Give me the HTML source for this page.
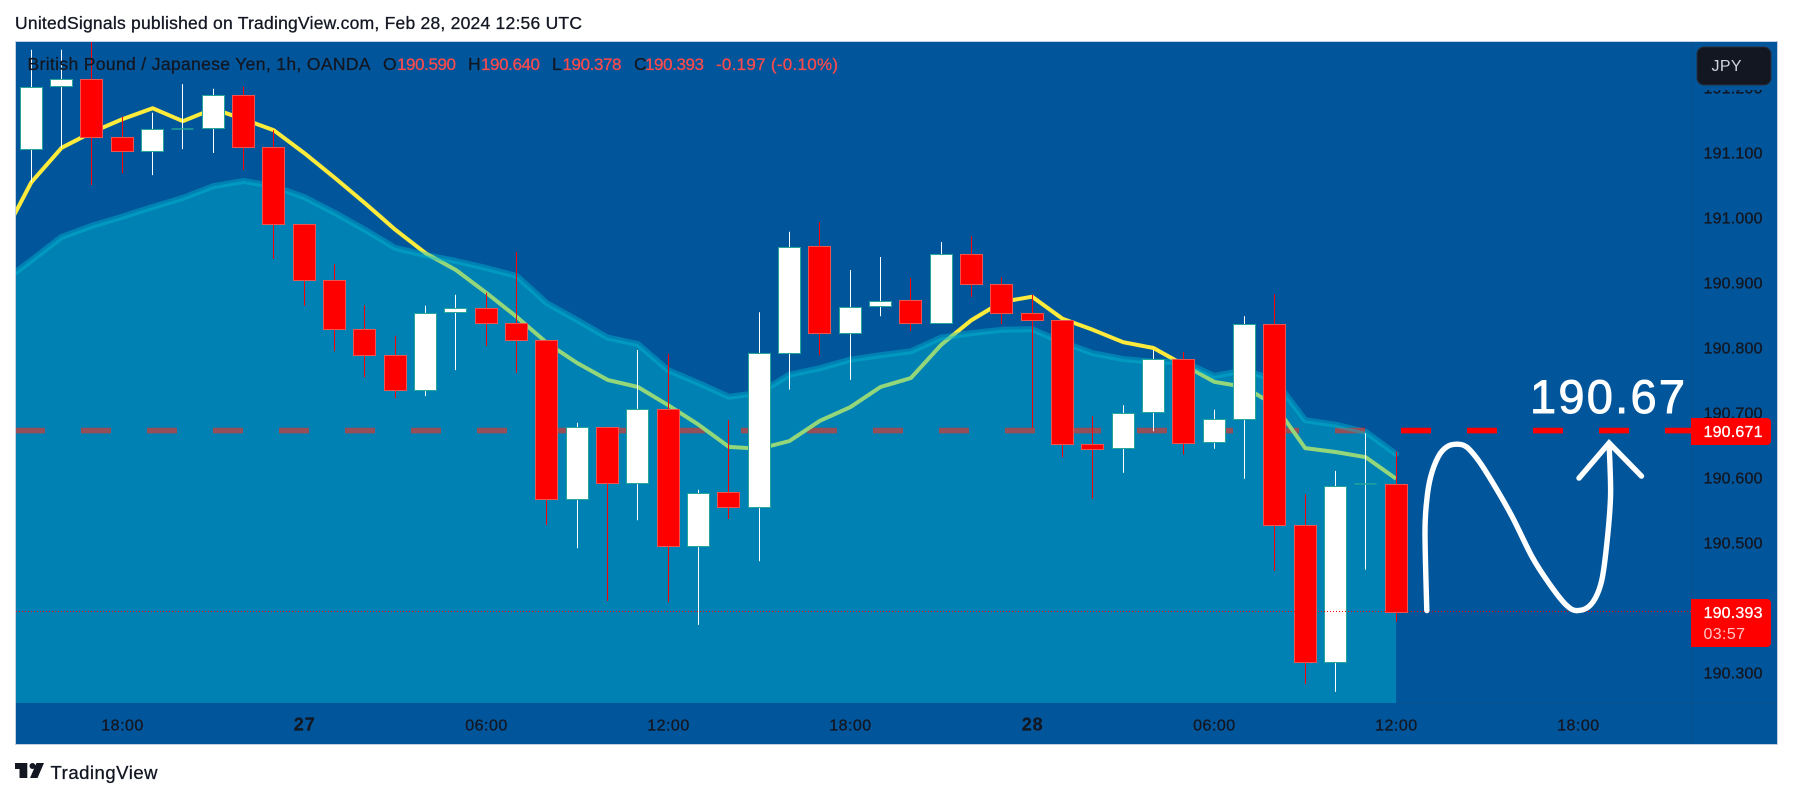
<!DOCTYPE html>
<html lang="en">
<head>
<meta charset="utf-8">
<title>GBP/JPY 1h chart</title>
<style>
html,body{margin:0;padding:0;background:#fff;}
body{width:1793px;height:798px;overflow:hidden;}
svg{display:block;}
text{font-family:"Liberation Sans",sans-serif;}
.ink{stroke:#131722;stroke-width:.3px;}
.redink{stroke:#ff4a4a;stroke-width:.25px;}
</style>
</head>
<body>
<svg id="chart" width="1793" height="798" viewBox="0 0 1793 798" xmlns="http://www.w3.org/2000/svg">
  <defs>
    <clipPath id="plot-clip"><rect x="16" y="42" width="1675.5" height="661"/></clipPath>
  </defs>
  <rect x="0" y="0" width="1793" height="798" fill="#ffffff"/>
  <text class="ink" x="15" y="29" font-size="17.5" fill="#131722" textLength="567">UnitedSignals published on TradingView.com, Feb 28, 2024 12:56 UTC</text>
  <rect x="15.5" y="41.5" width="1762" height="703" fill="#01569b" stroke="#c3cfe2" stroke-width="1"/>
  <g id="plot" clip-path="url(#plot-clip)"></g>
  <line x1="1691.5" y1="42" x2="1691.5" y2="744" stroke="#0a4f8c" stroke-width="1"/>
  <line x1="1397" y1="703.5" x2="1777" y2="703.5" stroke="#0a528f" stroke-width="1"/>
  <g id="time-axis"></g>
  <g id="price-axis"></g>

  <g>
    <text class="ink" x="27.5" y="70" font-size="17.5" fill="#131722" textLength="343">British Pound / Japanese Yen, 1h, OANDA</text>
    <text class="ink" x="383" y="70" font-size="17.5" fill="#131722">O</text>
    <text class="redink" x="397" y="70" font-size="17" fill="#ff4a4a" textLength="59">190.590</text>
    <text class="ink" x="468" y="70" font-size="17.5" fill="#131722">H</text>
    <text class="redink" x="481" y="70" font-size="17" fill="#ff4a4a" textLength="59">190.640</text>
    <text class="ink" x="552" y="70" font-size="17.5" fill="#131722">L</text>
    <text class="redink" x="562.5" y="70" font-size="17" fill="#ff4a4a" textLength="59">190.378</text>
    <text class="ink" x="634" y="70" font-size="17.5" fill="#131722">C</text>
    <text class="redink" x="645" y="70" font-size="17" fill="#ff4a4a" textLength="59">190.393</text>
    <text class="redink" x="716" y="70" font-size="17" fill="#ff4a4a" textLength="122">-0.197 (-0.10%)</text>
  </g>

  <rect x="1695" y="85" width="80" height="5" fill="#01569b"/>
  <g>
    <rect x="1697" y="47" width="74" height="38" rx="7" fill="#131722" stroke="#2a2e39" stroke-width="1"/>
    <text x="1711.5" y="71" font-size="16" fill="#d1d4dc" textLength="30">JPY</text>
  </g>

  <g>
    <path d="M1691 418H1767a4 4 0 0 1 4 4V441a4 4 0 0 1 -4 4H1691Z" fill="#ff0000"/>
    <text x="1703.5" y="437" font-size="16" fill="#ffffff" stroke="#ffffff" stroke-width=".3" textLength="59">190.671</text>
  </g>
  <g>
    <path d="M1691 599H1767a4 4 0 0 1 4 4V643a4 4 0 0 1 -4 4H1691Z" fill="#ff0000"/>
    <text x="1703.5" y="618" font-size="16" fill="#ffffff" stroke="#ffffff" stroke-width=".3" textLength="59">190.393</text>
    <text x="1703.5" y="639" font-size="16" fill="#ffc4c4" textLength="41.5">03:57</text>
  </g>

  <g>
    <path d="M15 763H27.3V778H19.5V769H15Z" fill="#131722"/>
    <circle cx="32.5" cy="766" r="3" fill="#131722"/>
    <path d="M36.5 763H44L37.5 778H30Z" fill="#131722"/>
    <text class="ink" x="50.5" y="779" font-size="18.5" fill="#131722" textLength="107">TradingView</text>
  </g>
</svg>

<script>
// Chart data (JPY per GBP, hourly bars)
const opens = [191.105,191.202,191.213,191.124,191.102,191.136,191.137,191.188,191.108,190.990,190.904,190.828,190.788,190.735,190.854,190.861,190.838,190.811,190.567,190.678,190.591,190.705,190.495,190.578,190.554,190.791,190.956,190.822,190.864,190.873,190.838,190.944,190.898,190.853,190.842,190.651,190.645,190.701,190.782,190.654,190.690,190.836,190.527,190.316,190.590,190.590];
const highs = [191.258,191.258,191.270,191.155,191.161,191.205,191.198,191.201,191.134,190.990,190.928,190.865,190.818,190.864,190.881,190.884,190.947,190.811,190.684,190.678,190.796,190.790,190.581,190.688,190.854,190.978,190.993,190.919,190.939,190.907,190.962,190.971,190.908,190.881,190.842,190.694,190.711,190.796,190.793,190.704,190.848,190.882,190.574,190.610,190.668,190.640];
const lows = [191.054,191.107,191.050,191.068,191.065,191.105,191.099,191.073,190.936,190.864,190.794,190.754,190.722,190.725,190.765,190.802,190.761,190.527,190.491,190.410,190.534,190.408,190.373,190.536,190.471,190.735,190.788,190.750,190.848,190.825,190.838,190.878,190.836,190.676,190.631,190.567,190.607,190.671,190.635,190.644,190.598,190.456,190.282,190.270,190.458,190.378];
const closes = [191.201,191.213,191.124,191.102,191.136,191.136,191.188,191.108,190.990,190.904,190.828,190.788,190.735,190.853,190.861,190.838,190.811,190.567,190.678,190.591,190.705,190.495,190.576,190.554,190.791,190.954,190.822,190.862,190.871,190.838,190.944,190.898,190.853,190.842,190.651,190.644,190.699,190.782,190.653,190.690,190.836,190.527,190.316,190.587,190.590,190.393];

// Moving averages: first value belongs to the bar before the first candle (clipped by the panel)
const fastAverage = [190.965,191.054,191.107,191.131,191.151,191.168,191.148,191.167,191.151,191.134,191.099,191.061,191.022,190.981,190.945,190.919,190.884,190.847,190.807,190.776,190.750,190.739,190.711,190.681,190.647,190.644,190.656,190.687,190.708,190.739,190.753,190.804,190.842,190.870,190.878,190.844,190.827,190.808,190.799,190.773,190.747,190.739,190.711,190.645,190.639,190.631,190.598];
const slowAverage = [190.899,190.934,190.970,190.987,191.001,191.016,191.030,191.048,191.056,191.048,191.031,191.007,190.981,190.953,190.942,190.933,190.922,190.910,190.868,190.842,190.815,190.805,190.765,190.745,190.724,190.730,190.758,190.768,190.781,190.788,190.794,190.815,190.822,190.827,190.828,190.808,190.791,190.782,190.778,190.778,190.756,190.765,190.750,190.688,190.681,190.670,190.636];

const levelPrice = 190.672;
const lastPrice = 190.393;

const priceTicks = ["191.200","191.100","191.000","190.900","190.800","190.700","190.600","190.500","190.300"];
const timeTickBars = [3,9,15,21,27,33,39,45,51];
const timeTickLabels = ["18:00","27","06:00","12:00","18:00","28","06:00","12:00","18:00"];
const timeTickBold = [false,true,false,false,false,true,false,false,false];

// Hand-drawn forecast annotation anchored as [bar, price]
const brushBars = [46.01,45.95,46.01,46.14,46.39,46.67,47.0,47.32,47.70,48.17,48.82,49.48,50.04,50.60,50.99,51.45,51.78,51.98,52.07,52.02];
const brushPrices = [190.395,190.514,190.565,190.601,190.632,190.647,190.651,190.647,190.627,190.593,190.540,190.478,190.437,190.404,190.395,190.406,190.442,190.514,190.576,190.653];
const arrowBars = [51.03,52.02,53.09];
const arrowPrices = [190.599,190.653,190.602];

// Axis functions
const xOf = function (bar) { return 31.3 + 30.33 * bar; };
const yOf = function (price) { return 152.4 + (191.1 - price) * 650; };
const snap = function (v) { return Math.floor(v) + 0.5; };

const NS = "http://www.w3.org/2000/svg";
const mk = function (tag, attrs, parent) {
  const e = document.createElementNS(NS, tag);
  Object.keys(attrs).forEach(function (k) { e.setAttribute(k, attrs[k]); });
  parent.appendChild(e);
  return e;
};

const plot = document.getElementById("plot");
const timeAxis = document.getElementById("time-axis");
const priceAxis = document.getElementById("price-axis");

// Level line (sits below the translucent area)
const levelLine = mk("line", {x1: 15, x2: 1691, y1: yOf(levelPrice), y2: yOf(levelPrice), stroke: "#ff0000", "stroke-width": 5.6, "stroke-dasharray": "30 36"}, plot);



// Fast average
const fastPts = fastAverage.map(function (p, i) { return xOf(i - 1).toFixed(1) + "," + yOf(p).toFixed(1); }).join(" ");
const fastLine = mk("polyline", {points: fastPts, fill: "none", stroke: "#ffeb3b", "stroke-width": 4, "stroke-linejoin": "round"}, plot);



// Slow average area
const slowPts = slowAverage.map(function (p, i) { return xOf(i - 1).toFixed(1) + "," + yOf(p).toFixed(1); });
const lastBar = slowAverage.length - 2;
const areaPts = slowPts.join(" ") + " " + xOf(lastBar).toFixed(1) + ",703 " + xOf(-1).toFixed(1) + ",703";
const slowArea = mk("polygon", {points: areaPts, fill: "rgb(0,188,212)", "fill-opacity": 0.42}, plot);


const slowLine = mk("polyline", {points: slowPts.join(" "), fill: "none", stroke: "rgb(0,188,212)", "stroke-opacity": 0.42, "stroke-width": 6, "stroke-linejoin": "round", "stroke-linecap": "round"}, plot);



// Candles
closes.forEach(function (close, i) {
  const open = opens[i];
  const up = close >= open;
  const cx = snap(xOf(i));
  const g = mk("g", {}, plot);
  
  

  const wick = mk("line", {x1: cx, x2: cx, y1: yOf(highs[i]), y2: yOf(lows[i]), stroke: up ? "#ffffff" : "#ff0000", "stroke-width": 1}, g);
  
  

  const yTop = yOf(Math.max(open, close));
  const yBot = yOf(Math.min(open, close));
  if (yBot - yTop < 1) {
    const doji = mk("rect", {x: cx - 11, y: yTop - 0.7, width: 22, height: 1.4, fill: "#26a69a"}, g);
    
    
  } else {
    const top = Math.round(yTop) + 0.5;
    const bot = Math.round(yBot) + 0.5;
    const body = mk("rect", {x: cx - 11, y: top, width: 22, height: Math.max(bot - top, 1), fill: up ? "#ffffff" : "#ff0000", stroke: up ? "#26a69a" : "#ef5350", "stroke-width": 1}, g);
    
    
  }
});

// Last price dotted line
const lastLine = mk("line", {x1: 16, x2: 1691, y1: snap(yOf(lastPrice)), y2: snap(yOf(lastPrice)), stroke: "#ff0000", "stroke-width": 1, "stroke-dasharray": "1 2"}, plot);



// Brush annotation: smooth curve through anchors
const bx = brushBars.map(xOf);
const by = brushPrices.map(yOf);
let brushD = "M" + bx[0].toFixed(1) + " " + by[0].toFixed(1);
for (let i = 0; i < bx.length - 1; i++) {
  const i0 = Math.max(i - 1, 0);
  const i3 = Math.min(i + 2, bx.length - 1);
  const c1x = bx[i] + (bx[i + 1] - bx[i0]) / 6;
  const c1y = by[i] + (by[i + 1] - by[i0]) / 6;
  const c2x = bx[i + 1] - (bx[i3] - bx[i]) / 6;
  const c2y = by[i + 1] - (by[i3] - by[i]) / 6;
  brushD += "C" + c1x.toFixed(1) + " " + c1y.toFixed(1) + " " + c2x.toFixed(1) + " " + c2y.toFixed(1) + " " + bx[i + 1].toFixed(1) + " " + by[i + 1].toFixed(1);
}
const brush = mk("path", {d: brushD, fill: "none", stroke: "#ffffff", "stroke-width": 5.4, "stroke-linecap": "round", "stroke-linejoin": "round"}, plot);



const arrowPts = arrowBars.map(function (b, i) { return xOf(b).toFixed(1) + "," + yOf(arrowPrices[i]).toFixed(1); }).join(" ");
const arrow = mk("polyline", {points: arrowPts, fill: "none", stroke: "#ffffff", "stroke-width": 5.4, "stroke-linecap": "round", "stroke-linejoin": "miter"}, plot);



const bigLabel = mk("text", {x: 1530, y: 413, "font-size": 47, fill: "#ffffff", stroke: "#ffffff", "stroke-width": 0.9, textLength: 155}, plot);
bigLabel.textContent = "190.67";



// Time axis labels
timeTickLabels.forEach(function (label, i) {
  const bold = timeTickBold[i];
  const t = mk("text", {x: xOf(timeTickBars[i]), y: 730.5, "font-size": bold ? 18 : 16, "font-weight": bold ? "bold" : "normal", fill: "#131722", "text-anchor": "middle", stroke: "#131722", "stroke-width": bold ? 0.2 : 0.35, textLength: bold ? 21 : 42}, timeAxis);
  t.textContent = label;
  
  
});

// Price axis labels
priceTicks.forEach(function (label) {
  const t = mk("text", {x: 1703.5, y: yOf(parseFloat(label)) + 6, "font-size": 16, fill: "#131722", stroke: "#131722", "stroke-width": 0.35, textLength: 59}, priceAxis);
  t.textContent = label;
  
  
});
</script>
</body>
</html>
